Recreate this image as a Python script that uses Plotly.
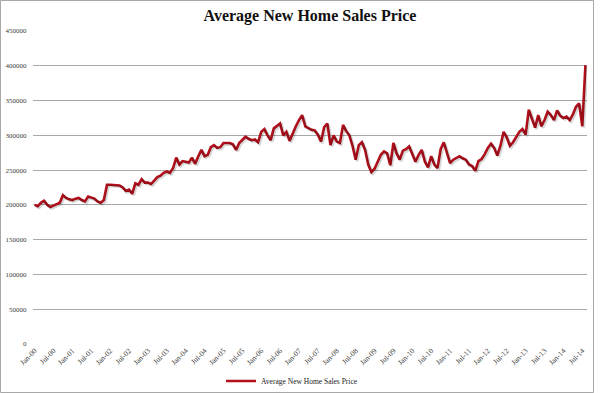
import plotly.graph_objects as go

# Monthly average new home sales price, Jan-2000 .. Aug-2014 (values in $ thousands)
y2000 = [200, 198, 203, 206, 200, 197, 199, 201, 203, 214, 210, 208]
y2001 = [207, 209, 210, 207, 205, 212, 211, 209, 205, 203, 207, 229]
y2002 = [229, 229, 229, 228, 225, 220, 222, 216, 231, 229, 237, 232]
y2003 = [232, 230, 235, 240, 242, 246, 248, 246, 253, 268, 258, 263]
y2004 = [262, 261, 268, 259, 270, 279, 270, 272, 283, 286, 282, 283]
y2005 = [289, 289, 289, 287, 279, 289, 293, 298, 295, 293, 294, 290]
y2006 = [305, 309, 300, 293, 310, 314, 317, 300, 305, 292, 303, 313]
y2007 = [322, 329, 313, 310, 308, 307, 301, 291, 312, 317, 286, 300]
y2008 = [291, 289, 315, 306, 300, 285, 265, 286, 290, 279, 258, 247]
y2009 = [252, 262, 272, 277, 274, 257, 289, 274, 265, 278, 280, 284]
y2010 = [272, 262, 272, 279, 262, 254, 270, 258, 253, 280, 290, 273]
y2011 = [260, 265, 268, 270, 267, 265, 258, 256, 249, 263, 266, 273]
y2012 = [282, 288, 282, 271, 285, 305, 297, 285, 290, 298, 305, 309]
y2013 = [301, 337, 323, 311, 329, 313, 322, 334, 329, 322, 336, 328]
y2014 = [325, 327, 322, 330, 341, 346, 313, 401]

years = list(range(2000, 2015))
months = ["Jan", "Feb", "Mar", "Apr", "May", "Jun", "Jul", "Aug", "Sep", "Oct", "Nov", "Dec"]
yearly = [y2000, y2001, y2002, y2003, y2004, y2005, y2006, y2007,
          y2008, y2009, y2010, y2011, y2012, y2013, y2014]

categories = []
values = []
for yr, vals in zip(years, yearly):
    for m, v in zip(months, vals):
        categories.append(f"{m}-{yr % 100:02d}")
        values.append(v * 1000)

x_idx = list(range(len(categories)))
tick_idx = [i for i, c in enumerate(categories) if c.startswith("Jan") or c.startswith("Jul")]
tick_text = [categories[i] for i in tick_idx]

y_ticks = [0, 50000, 100000, 150000, 200000, 250000, 300000, 350000, 400000, 450000]
y_text = [str(v) for v in y_ticks]

SERIF = "Liberation Serif, Times New Roman, serif"

W, H = 600, 393
ml, mr, mt, mb = 33, 13, 31, 49
pw, ph = W - ml - mr, H - mt - mb

X_RANGE = [-0.5, len(categories) - 0.5]
Y_RANGE = [0, 450000]

# shadow axes: same data, drawn ~1.5px right and down
sx = 1.5 * (X_RANGE[1] - X_RANGE[0]) / pw
sy = 1.5 * (Y_RANGE[1] - Y_RANGE[0]) / ph

def px_to_paper_x(px):
    return (px - ml) / pw

def px_to_paper_y(py):
    return (H - mb - py) / ph

fig = go.Figure()
fig.add_trace(go.Scatter(
    x=x_idx, y=values, mode="lines", xaxis="x2", yaxis="y2",
    line=dict(color="rgba(0,0,0,0.16)", width=2.8),
    hoverinfo="skip", showlegend=False,
))
fig.add_trace(go.Scatter(
    x=x_idx, y=values, mode="lines",
    name="Average New Home Sales Price",
    line=dict(color="#B4101C", width=2.6),
    hoverinfo="skip",
))

fig.update_layout(
    template="none",
    width=W, height=H, autosize=False,
    margin=dict(l=ml, r=mr, t=mt, b=mb, pad=0),
    paper_bgcolor="white", plot_bgcolor="white",
    font=dict(family=SERIF, color="#404040", size=7),
    title=dict(text="<b>Average New Home Sales Price</b>",
               font=dict(family=SERIF, size=16, color="#111111"),
               x=0.5, xref="paper", yref="container", y=1 - 15 / H,
               yanchor="middle", xanchor="center"),
    showlegend=True,
    legend=dict(orientation="h", x=px_to_paper_x(292), xanchor="center", xref="paper",
                yref="container", y=(H - 381) / H, yanchor="middle",
                font=dict(family=SERIF, size=7.5, color="#222222"),
                bgcolor="rgba(0,0,0,0)", borderwidth=0),
    xaxis=dict(range=X_RANGE, automargin=False,
               tickmode="array", tickvals=tick_idx, ticktext=tick_text,
               tickangle=-45, showgrid=False, zeroline=False,
               showline=False, ticks="",
               tickfont=dict(family=SERIF, size=7.5, color="#404040")),
    yaxis=dict(range=Y_RANGE, automargin=False, tickmode="array",
               tickvals=y_ticks, ticktext=y_text,
               showgrid=True, gridcolor="#A8A8A8", gridwidth=1,
               zeroline=False, showline=False,
               ticks="outside", ticklen=4, tickcolor="rgba(0,0,0,0)",
               tickfont=dict(family=SERIF, size=7, color="#404040")),
    xaxis2=dict(range=[X_RANGE[0] - sx, X_RANGE[1] - sx], overlaying="x",
                visible=False, automargin=False),
    yaxis2=dict(range=[Y_RANGE[0] + sy, Y_RANGE[1] + sy], overlaying="y",
                visible=False, automargin=False),
    shapes=[dict(type="rect", xref="paper", yref="paper",
                 x0=px_to_paper_x(0.5), x1=px_to_paper_x(593.5),
                 y0=px_to_paper_y(392.5), y1=px_to_paper_y(0.5),
                 line=dict(color="#A8A8A8", width=1), fillcolor="rgba(0,0,0,0)",
                 layer="below")],
)

fig.write_html("out.html",
               config={"displayModeBar": False, "responsive": False},
               post_script="document.body.style.margin='0';document.body.style.padding='0';")
